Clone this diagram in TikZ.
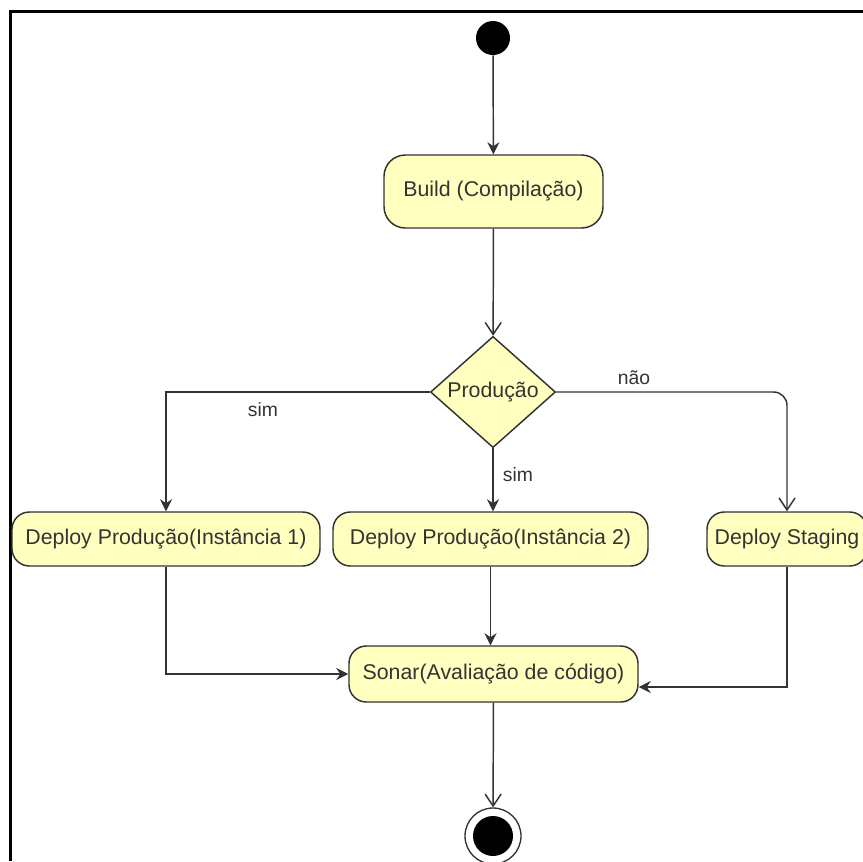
\documentclass[tikz,border=0pt]{standalone}
\usepackage{fontspec}
\setmainfont{Liberation Sans}
\usetikzlibrary{arrows.meta,shapes.geometric}
\definecolor{actfill}{HTML}{FFFFC0}
\definecolor{ln}{HTML}{333333}
\begin{document}
\begin{tikzpicture}[x=0.75pt,y=-0.75pt,
  act/.style={draw=ln, fill=actfill, line width=1.1pt, rounded corners=13pt, inner sep=0pt,
    font=\fontsize{16}{19}\selectfont, text=ln},
  dec/.style={draw=ln, fill=actfill, diamond, line width=1.1pt, inner sep=0pt,
    font=\fontsize{16}{19}\selectfont, text=ln},
  flow/.style={draw=ln, line width=1.1pt},
  filledarr/.style={-{Stealth[length=9pt,width=9pt]}},
  openarr/.style={-{Straight Barb[length=9pt,width=12pt]}},
  lbl/.style={font=\fontsize{14.5}{17}\selectfont, text=ln, inner sep=0pt}]
\useasboundingbox (0,0) rectangle (863,861);
% frame
\draw[line width=2.25pt] (10.5,861) -- (10.5,11.5) -- (863,11.5);
% nodes
\node[circle, fill=black, minimum size=25.5pt, inner sep=0pt] (start) at (493,38) {};
\node[act, rounded corners=16pt, minimum width=164.25pt, minimum height=54.75pt] (build) at (493.5,191.5) {Build (Compilação)};
\node[dec, minimum width=93.75pt, minimum height=81pt] (dec) at (493,392) {Produção};
\node[act, minimum width=231pt, minimum height=40.5pt] (p1) at (166,539) {Deploy Produção(Instância 1)};
\node[act, minimum width=236.25pt, minimum height=40.5pt] (p2) at (490.5,539) {Deploy Produção(Instância 2)};
\node[act, minimum width=120pt, minimum height=40.5pt] (stg) at (787,539) {Deploy Staging};
\node[act, minimum width=216.75pt, minimum height=42pt] (sonar) at (493.5,674) {Sonar(Avaliação de código)};
\node[circle, draw=ln, line width=1pt, minimum size=42pt, inner sep=0pt] (endo) at (493,836) {};
\node[circle, fill=black, minimum size=30pt, inner sep=0pt] (endi) at (493,836) {};
% labels
\node[lbl] (lsim) at (263,410) {sim};
\node[lbl] (lnao) at (634,378) {não};
\node[lbl] (msim) at (518,475) {sim};
% connectors
\draw[flow,filledarr] (start) -- (build);
\draw[flow,openarr] (build) -- (dec);
\draw[flow,filledarr] (dec.west) -| (p1.north);
\draw[flow,openarr,rounded corners=10pt] (dec.east) -| (stg.north);
\draw[flow,filledarr] (dec.south) -- (dec.south |- p2.north);
\draw[flow,filledarr] (p1.south) |- (sonar.west);
\draw[flow,filledarr] (p2.south) -- (p2.south |- sonar.north);
\draw[flow,filledarr] (stg.south) |- ([yshift=-9.75pt]sonar.east);
\draw[flow,openarr] (sonar) -- (endo);
\end{tikzpicture}
\end{document}
